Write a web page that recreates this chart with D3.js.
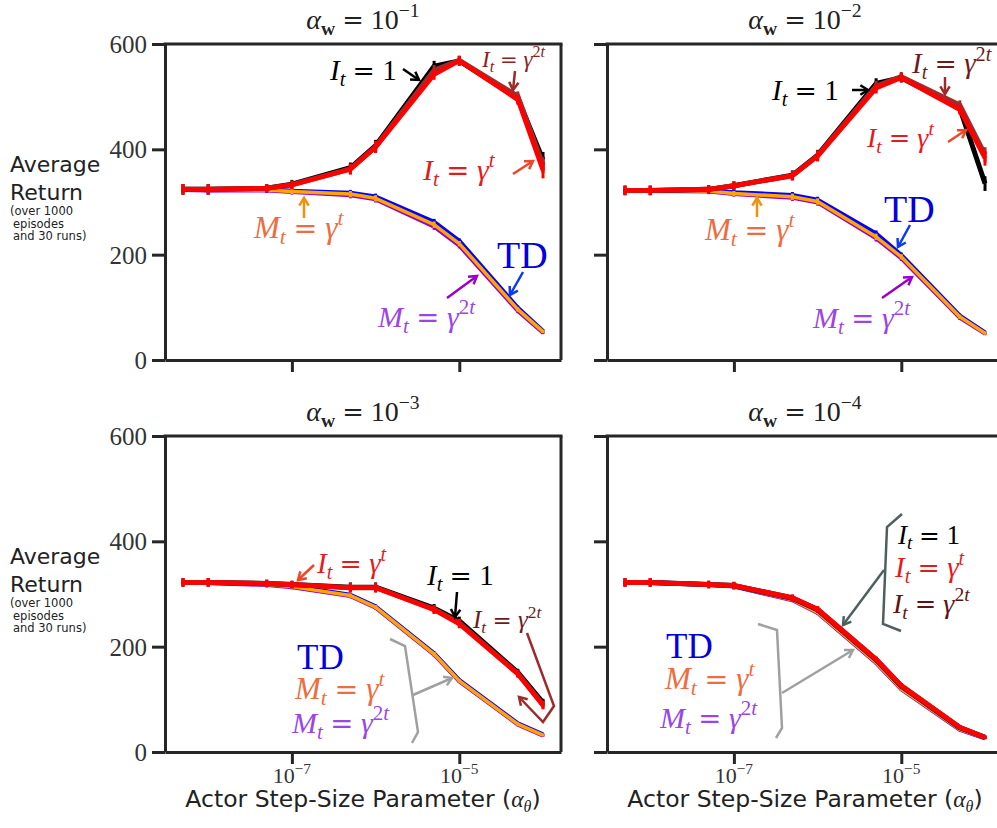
<!DOCTYPE html>
<html>
<head>
<meta charset="utf-8">
<script src="https://cdn.jsdelivr.net/npm/d3@7"></script>
<style>
  body { margin: 0; background: #fff; }
</style>
</head>
<body>
<div id="chart"></div>
<script>
// actor step sizes (x) shared by every panel
var stepSizes = [5e-9, 1e-8, 5e-8, 1e-7, 5e-7, 1e-6, 5e-6, 1e-5, 5e-5, 1e-4];
var criticExponents = ["−1", "−2", "−3", "−4"];
var yTicks = [0, 200, 400, 600];
var xTicks = [1e-7, 1e-5];
var xTickExponents = ["−7", "−5"];

// alpha_w = 1e-1
var td_w1   = [324, 323, 324, 321, 317, 310, 262, 226, 99, 55];
var mG_w1   = [324, 323, 323, 320, 315, 307, 257, 221, 96, 54];
var mG2_w1  = [323, 322, 322, 319, 313, 305, 253, 217, 93, 52];
var i1_w1   = [324, 324, 326, 334, 365, 407, 558, 568, 497, 380];
var iG2_w1  = [324, 324, 326, 333, 363, 405, 550, 569, 501, 370];
var iG_w1   = [324, 324, 326, 332, 362, 404, 542, 568, 494, 360];
var errI_w1 = [10, 10, 8, 8, 10, 11, 10, 9, 9, 15];
var errM_w1 = [4, 4, 5, 5, 6, 6, 6, 5, 4, 3];

// alpha_w = 1e-2
var td_w2   = [322, 322, 322, 318, 313, 304, 240, 199, 84, 52];
var mG_w2   = [322, 322, 321, 316, 310, 301, 234, 196, 82, 51];
var mG2_w2  = [321, 321, 320, 315, 308, 299, 231, 193, 80, 50];
var i1_w2   = [322, 322, 324, 331, 351, 389, 525, 536, 478, 335];
var iG2_w2  = [322, 322, 324, 331, 350, 388, 520, 538, 484, 390];
var iG_w2   = [322, 322, 324, 331, 350, 387, 516, 536, 475, 383];
var errI_w2 = [9, 9, 8, 8, 9, 10, 10, 9, 9, 14];
var errM_w2 = [4, 4, 5, 5, 6, 6, 6, 5, 4, 3];

// alpha_w = 1e-3
var td_w3   = [322, 322, 319, 315, 298, 276, 187, 136, 54, 33];
var mG_w3   = [322, 322, 318, 314, 297, 275, 186, 135, 53, 32];
var mG2_w3  = [321, 321, 317, 313, 296, 274, 185, 134, 52, 31];
var i1_w3   = [322, 322, 320, 318, 313, 313, 273, 249, 151, 94];
var iG2_w3  = [322, 322, 320, 318, 312, 312, 271, 245, 149, 90];
var iG_w3   = [322, 322, 320, 318, 312, 312, 270, 243, 148, 88];
var errI_w3 = [8, 8, 7, 7, 9, 9, 8, 8, 7, 7];
var errM_w3 = [3, 3, 4, 4, 4, 4, 4, 3, 3, 2];

// alpha_w = 1e-4
var td_w4   = [322, 322, 318, 315, 290, 266, 171, 121, 44, 27];
var mG_w4   = [322, 322, 317, 315, 289, 265, 170, 120, 43, 27];
var mG2_w4  = [321, 321, 317, 314, 288, 264, 169, 119, 42, 26];
var i1_w4   = [322, 322, 318, 316, 292, 270, 175, 125, 46, 28];
var iG2_w4  = [322, 322, 318, 316, 293, 271, 176, 126, 47, 28];
var iG_w4   = [322, 322, 318, 316, 293, 271, 176, 126, 47, 28];
var errI_w4 = [8, 8, 7, 7, 6, 6, 5, 5, 4, 3];
var errM_w4 = [3, 3, 3, 3, 3, 3, 3, 3, 2, 2];

// drawing order: bottom to top
var seriesStyle = [
  {key: "td",  color: "#0000ff", width: 4.5, err: "errM"},
  {key: "mG2", color: "#9400d3", width: 4,   err: "errM"},
  {key: "mG",  color: "#ffa500", width: 3.5, err: "errM"},
  {key: "i1",  color: "#000000", width: 5,   err: "errI"},
  {key: "iG2", color: "#a52a2a", width: 5,   err: "errI"},
  {key: "iG",  color: "#ff0000", width: 4.5, err: "errI"}
];

// [text, style, level]  level: -1 sub, 0 base, 1 sup ; style "e" = wide equals sign
var EQ = [[" ", "", 0], ["=", "e", 0], [" ", "", 0]];
var labelParts = {
  i1:  [["I", "i", 0], ["t", "i", -1]].concat(EQ, [["1", "", 0]]),
  iG:  [["I", "i", 0], ["t", "i", -1]].concat(EQ, [["γ", "i", 0], ["t", "i", 1]]),
  iG2: [["I", "i", 0], ["t", "i", -1]].concat(EQ, [["γ", "i", 0], ["2", "", 1], ["t", "i", 1]]),
  td:  [["TD", "", 0]],
  mG:  [["M", "i", 0], ["t", "i", -1]].concat(EQ, [["γ", "i", 0], ["t", "i", 1]]),
  mG2: [["M", "i", 0], ["t", "i", -1]].concat(EQ, [["γ", "i", 0], ["2", "", 1], ["t", "i", 1]])
};

// annotations, in pixels from the panel's top-left corner
var notes_w1 = [
  {label: "i1",  color: "#000000", size: 29, at: [165, 36],  arrow: [[238, 25], [254, 36]],  arrowColor: "#000000"},
  {label: "iG2", color: "#8b2323", size: 23, at: [317, 23],  arrow: [[350, 27], [348, 46]],  arrowColor: "#9e2b2b"},
  {label: "iG",  color: "#e41a1c", size: 30, at: [258, 136], arrow: [[348, 130], [368, 117]], arrowColor: "#f0452b"},
  {label: "mG",  color: "#ec6d3f", size: 31, at: [89, 194],  arrow: [[139, 174], [139, 154]], arrowColor: "#f0900f"},
  {label: "td",  color: "#0000e0", size: 38, at: [332, 224], arrow: [[358, 228], [345, 251]], arrowColor: "#0a3af0"},
  {label: "mG2", color: "#9b45e5", size: 30, at: [213, 283], arrow: [[282, 254], [312, 232]], arrowColor: "#9a00c8"}
];
var notes_w2 = [
  {label: "i1",  color: "#000000", size: 29, at: [165, 56],  arrow: [[245, 46], [261, 46]],  arrowColor: "#000000"},
  {label: "iG2", color: "#6e1a1a", size: 29, at: [305, 29],  arrow: [[338, 33], [338, 50]],  arrowColor: "#9e2b2b"},
  {label: "iG",  color: "#e41a1c", size: 28, at: [260, 103], arrow: [[341, 98], [359, 86]],  arrowColor: "#f0452b"},
  {label: "mG",  color: "#ec6d3f", size: 31, at: [98, 196],  arrow: [[150, 173], [150, 154]], arrowColor: "#f0900f"},
  {label: "td",  color: "#0000e0", size: 38, at: [277, 178], arrow: [[303, 181], [291, 203]], arrowColor: "#0a3af0"},
  {label: "mG2", color: "#9b45e5", size: 30, at: [206, 284], arrow: [[275, 254], [305, 233]], arrowColor: "#9a00c8"}
];
var notes_w3 = [
  {label: "iG",  color: "#e41a1c", size: 29, at: [152, 137], arrow: [[149, 129], [133, 144]], arrowColor: "#f0452b"},
  {label: "i1",  color: "#000000", size: 29, at: [262, 149], arrow: [[292, 156], [290, 181]], arrowColor: "#000000"},
  {label: "iG2", color: "#6e1a1a", size: 25, at: [308, 192], arrow: [[362, 197], [389, 270], [378, 286], [354, 261]], arrowColor: "#9e2b2b"},
  {label: "td",  color: "#0000e0", size: 35, at: [132, 233]},
  {label: "mG",  color: "#ec6d3f", size: 31, at: [130, 263]},
  {label: "mG2", color: "#9b45e5", size: 30, at: [127, 297]},
  {bracket: [[225, 203], [240, 210], [253, 296], [247, 307]], color: "#a0a0a0"},
  {arrow: [[248, 259], [287, 242]], arrowColor: "#a0a0a0"}
];
var notes_w4 = [
  {label: "i1",  color: "#000000", size: 27, at: [291, 108]},
  {label: "iG",  color: "#e41a1c", size: 29, at: [288, 141]},
  {label: "iG2", color: "#5a1414", size: 28, at: [286, 177]},
  {bracket: [[295, 78], [280, 91], [276, 188], [294, 195]], color: "#4f5f5f"},
  {arrow: [[277, 134], [236, 189]], arrowColor: "#4f5f5f"},
  {label: "td",  color: "#0000e0", size: 35, at: [59, 222]},
  {label: "mG",  color: "#ec6d3f", size: 31, at: [58, 253]},
  {label: "mG2", color: "#9b45e5", size: 30, at: [53, 292]},
  {bracket: [[151, 188], [170, 194], [175, 292], [169, 302]], color: "#a0a0a0"},
  {arrow: [[175, 257], [246, 214]], arrowColor: "#a0a0a0"}
];

var panels = [
  {exp: criticExponents[0], col: 0, row: 0, td: td_w1, mG: mG_w1, mG2: mG2_w1, i1: i1_w1, iG2: iG2_w1, iG: iG_w1, errI: errI_w1, errM: errM_w1, notes: notes_w1},
  {exp: criticExponents[1], col: 1, row: 0, td: td_w2, mG: mG_w2, mG2: mG2_w2, i1: i1_w2, iG2: iG2_w2, iG: iG_w2, errI: errI_w2, errM: errM_w2, notes: notes_w2},
  {exp: criticExponents[2], col: 0, row: 1, td: td_w3, mG: mG_w3, mG2: mG2_w3, i1: i1_w3, iG2: iG2_w3, iG: iG_w3, errI: errI_w3, errM: errM_w3, notes: notes_w3},
  {exp: criticExponents[3], col: 1, row: 1, td: td_w4, mG: mG_w4, mG2: mG2_w4, i1: i1_w4, iG2: iG2_w4, iG: iG_w4, errI: errI_w4, errM: errM_w4, notes: notes_w4}
];

var W = 997, H = 828;
var panelLeft = [165, 607], panelTop = [44, 436];
var width = 396, height = 316;
var spine = "#262626";
var serif = "'Liberation Serif', 'DejaVu Serif', serif";
var sans = "'DejaVu Sans', sans-serif";

var svg = d3.select("#chart").append("svg")
    .attr("width", W).attr("height", H)
    .style("background", "#fff");

var x = d3.scaleLog()
    .domain([Math.pow(10, -8.516), Math.pow(10, -3.785)])
    .range([0, width]);
var y = d3.scaleLinear().domain([0, 600]).range([height, 0]);

function mathText(g, px, py, parts, size, color, anchor) {
    var t = g.append("text")
        .attr("x", px).attr("y", py)
        .attr("text-anchor", anchor || "start")
        .attr("fill", color)
        .style("font-family", serif)
        .style("font-size", size + "px")
        .style("white-space", "pre");
    var shift = {"-1": 0.2, "0": 0, "1": -0.42};
    var level = 0;
    parts.forEach(function(p) {
        var s = t.append("tspan").text(p[0]);
        var dy = (shift[p[2]] - shift[level]) * size;
        if (dy !== 0) s.attr("dy", dy);
        if (p[2] !== 0) s.style("font-size", (size * 0.7) + "px");
        if (p[1] === "i") s.style("font-style", "italic");
        if (p[1] === "b") s.style("font-weight", "bold");
        if (p[1] === "e") s.style("font-family", "'DejaVu Serif', serif").style("font-size", (size * 0.92) + "px");
        level = p[2];
    });
    return t;
}

function arrow(g, pts, color, w) {
    g.append("path")
        .attr("d", d3.line()(pts))
        .attr("fill", "none").attr("stroke", color)
        .attr("stroke-width", w).attr("stroke-linejoin", "miter");
    var a = pts[pts.length - 2], b = pts[pts.length - 1];
    var ang = Math.atan2(b[1] - a[1], b[0] - a[0]);
    var L = 9, spread = 0.55;
    var h1 = [b[0] - L * Math.cos(ang - spread), b[1] - L * Math.sin(ang - spread)];
    var h2 = [b[0] - L * Math.cos(ang + spread), b[1] - L * Math.sin(ang + spread)];
    g.append("path")
        .attr("d", d3.line()([h1, b, h2]))
        .attr("fill", "none").attr("stroke", color)
        .attr("stroke-width", w).attr("stroke-linejoin", "miter");
}

panels.forEach(function(p) {
    var g = svg.append("g")
        .attr("transform", "translate(" + panelLeft[p.col] + "," + panelTop[p.row] + ")");

    // axes
    var yAxis = d3.axisLeft(y).tickValues(yTicks).tickSize(13).tickSizeOuter(0).tickPadding(5)
        .tickFormat(p.col === 0 ? d3.format("d") : "");
    var ya = g.append("g").call(yAxis);
    var xAxis = d3.axisBottom(x).tickValues(xTicks).tickSize(12).tickSizeOuter(0).tickFormat("");
    var xa = g.append("g").attr("transform", "translate(0," + height + ")").call(xAxis);
    [ya, xa].forEach(function(a) {
        a.selectAll("path, line").attr("stroke", spine).attr("stroke-width", 3);
        a.selectAll("text").attr("fill", "#333")
            .style("font-family", serif).style("font-size", "25px");
    });
    ya.selectAll("text").attr("dy", "0.34em");
    g.append("line").attr("x1", -1.5).attr("x2", width + 1.5).attr("y1", 0).attr("y2", 0)
        .attr("stroke", spine).attr("stroke-width", 3);
    g.append("line").attr("x1", width).attr("x2", width).attr("y1", 0).attr("y2", height)
        .attr("stroke", spine).attr("stroke-width", 3);

    // lines + error bars
    seriesStyle.forEach(function(s) {
        var vals = p[s.key], errs = p[s.err];
        var pts = stepSizes.map(function(d, i) { return [x(d), y(vals[i])]; });
        g.append("path")
            .attr("d", d3.line()(pts))
            .attr("fill", "none").attr("stroke", s.color)
            .attr("stroke-width", s.width).attr("stroke-linejoin", "round");
        g.selectAll(null).data(stepSizes).enter().append("line")
            .attr("x1", function(d) { return x(d); })
            .attr("x2", function(d) { return x(d); })
            .attr("y1", function(d, i) { return y(vals[i] - errs[i]); })
            .attr("y2", function(d, i) { return y(vals[i] + errs[i]); })
            .attr("stroke", s.color).attr("stroke-width", 3);
    });

    // title
    mathText(g, width / 2, -15,
        [["α", "i", 0], ["w", "b", -1]].concat(EQ, [["10", "", 0], [p.exp, "", 1]]), 28, "#222", "middle");

    // annotations
    p.notes.forEach(function(n) {
        if (n.label) mathText(g, n.at[0], n.at[1], labelParts[n.label], n.size, n.color);
        if (n.arrow) arrow(g, n.arrow, n.arrowColor, 2.5);
        if (n.bracket) {
            g.append("path").attr("d", d3.line()(n.bracket))
                .attr("fill", "none").attr("stroke", n.color).attr("stroke-width", 2.5);
        }
    });

    // x tick labels + axis title on the bottom row
    if (p.row === 1) {
        xTicks.forEach(function(t, i) {
            mathText(g, x(t), height + 31, [["10", "", 0], [xTickExponents[i], "", 1]], 22, "#333", "middle");
        });
        var xl = g.append("text")
            .attr("x", width / 2).attr("y", height + 55)
            .attr("text-anchor", "middle")
            .style("font-family", sans).style("font-size", "23.5px").attr("fill", "#222");
        xl.append("tspan").text("Actor Step-Size Parameter (");
        xl.append("tspan").style("font-family", serif).style("font-style", "italic").text("α");
        xl.append("tspan").style("font-family", serif).style("font-style", "italic")
            .style("font-size", "16px").attr("dy", 5).text("θ");
        xl.append("tspan").attr("dy", -5).text(")");
    }

    // y axis title on the left column
    if (p.col === 0) {
        var yl = svg.append("g").attr("transform", "translate(10," + panelTop[p.row] + ")");
        yl.append("text").attr("y", 128).text("Average");
        yl.append("text").attr("y", 156).text("Return");
        yl.selectAll("text").style("font-family", sans).style("font-size", "22px").attr("fill", "#222");
        ["(over 1000", " episodes", " and 30 runs)"].forEach(function(s, i) {
            yl.append("text").attr("y", 171 + i * 12.5).attr("x", i === 0 ? 0 : 3)
                .style("font-family", sans).style("font-size", "11.5px").attr("fill", "#222")
                .text(s);
        });
    }
});
</script>
</body>
</html>
